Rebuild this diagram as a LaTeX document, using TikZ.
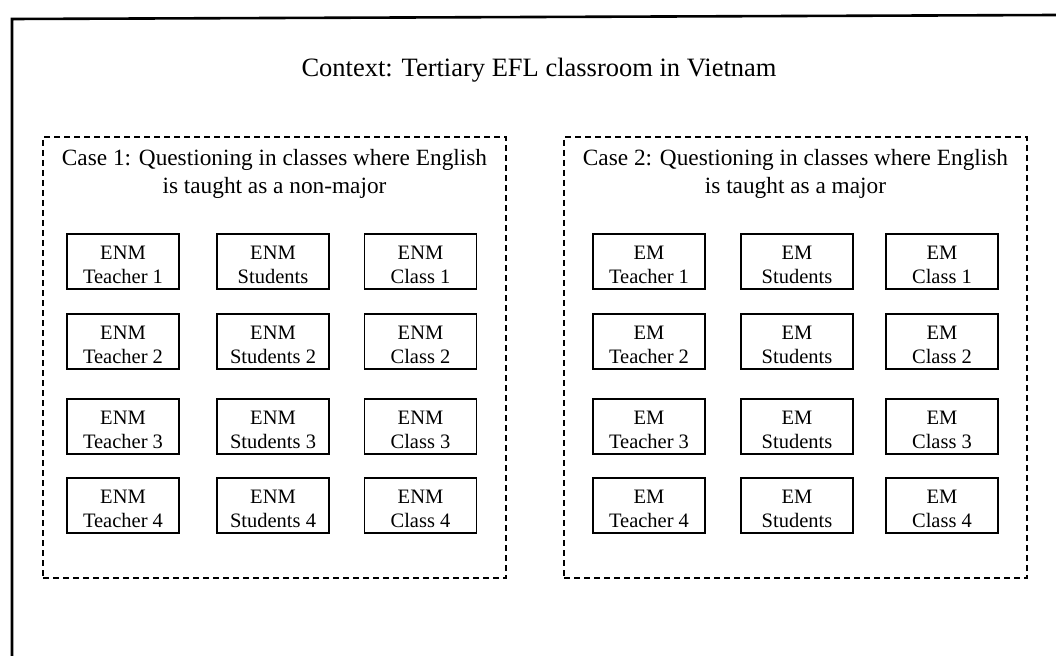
\documentclass[tikz,border=0pt]{standalone}
\usepackage{fontspec}
\setmainfont{Liberation Serif}
% two-line cell label; the strut lowers the block a little inside its box
\newcommand\celltext[2]{\rule{0pt}{21pt}#1\\#2}
\begin{document}
\begin{tikzpicture}[x=1pt,y=-1pt,
  frame/.style={line width=2.6pt,line cap=rect},
  casebox/.style={draw,line width=1.2pt,dash pattern=on 6pt off 4pt,
    minimum width=463pt,minimum height=441pt,inner sep=0pt},
  casehead/.style={align=center,inner sep=0pt,font=\fontsize{23.3}{28}\selectfont},
  cell/.style={draw,line width=1.2pt,minimum width=112pt,minimum height=55pt,
    inner sep=0pt,align=center,font=\fontsize{20.5}{24}\selectfont}]
\useasboundingbox (0,0) rectangle (1056,655);

% page frame: left edge and top edge
\coordinate (ftop) at (1056,15);
\coordinate (fcorner) at (12,19);
\coordinate (fbottom) at (12,655);
\draw[frame] (ftop) -- (fcorner) -- (fbottom);

% title
\node[anchor=base,inner sep=0pt,font=\fontsize{26.5}{32}\selectfont] (title) at (539,77)
  {Context: Tertiary EFL classroom in Vietnam};

% the two cases
\node[casebox] (case1) at (274.5,357.5) {};
\node[casebox] (case2) at (795.5,357.5) {};
\node[casehead] (head1) at (274.5,174) {Case 1: Questioning in classes where English\\is taught as a non-major};
\node[casehead] (head2) at (795.5,174) {Case 2: Questioning in classes where English\\is taught as a major};

% case 1 cells
\node[cell] (enmT1) at (123,261.5) {\celltext{ENM}{Teacher 1}};
\node[cell] (enmS1) at (273,261.5) {\celltext{ENM}{Students}};
\node[cell] (enmC1) at (420.5,261.5) {\celltext{ENM}{Class 1}};
\node[cell] (enmT2) at (123,341.5) {\celltext{ENM}{Teacher 2}};
\node[cell] (enmS2) at (273,341.5) {\celltext{ENM}{Students 2}};
\node[cell] (enmC2) at (420.5,341.5) {\celltext{ENM}{Class 2}};
\node[cell] (enmT3) at (123,426.5) {\celltext{ENM}{Teacher 3}};
\node[cell] (enmS3) at (273,426.5) {\celltext{ENM}{Students 3}};
\node[cell] (enmC3) at (420.5,426.5) {\celltext{ENM}{Class 3}};
\node[cell] (enmT4) at (123,505.5) {\celltext{ENM}{Teacher 4}};
\node[cell] (enmS4) at (273,505.5) {\celltext{ENM}{Students 4}};
\node[cell] (enmC4) at (420.5,505.5) {\celltext{ENM}{Class 4}};

% case 2 cells
\node[cell] (emT1) at (649,261.5) {\celltext{EM}{Teacher 1}};
\node[cell] (emS1) at (797,261.5) {\celltext{EM}{Students}};
\node[cell] (emC1) at (942,261.5) {\celltext{EM}{Class 1}};
\node[cell] (emT2) at (649,341.5) {\celltext{EM}{Teacher 2}};
\node[cell] (emS2) at (797,341.5) {\celltext{EM}{Students}};
\node[cell] (emC2) at (942,341.5) {\celltext{EM}{Class 2}};
\node[cell] (emT3) at (649,426.5) {\celltext{EM}{Teacher 3}};
\node[cell] (emS3) at (797,426.5) {\celltext{EM}{Students}};
\node[cell] (emC3) at (942,426.5) {\celltext{EM}{Class 3}};
\node[cell] (emT4) at (649,505.5) {\celltext{EM}{Teacher 4}};
\node[cell] (emS4) at (797,505.5) {\celltext{EM}{Students}};
\node[cell] (emC4) at (942,505.5) {\celltext{EM}{Class 4}};
\end{tikzpicture}
\end{document}
